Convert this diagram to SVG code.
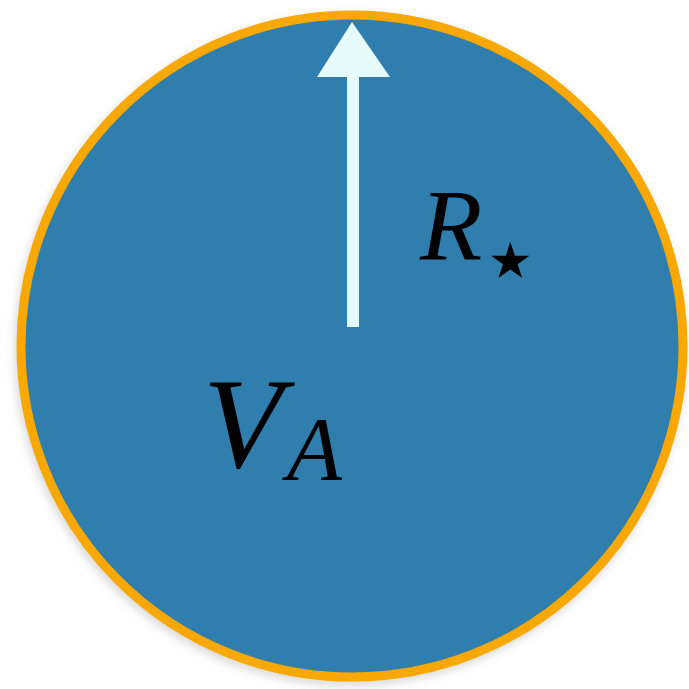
<svg xmlns="http://www.w3.org/2000/svg" width="689" height="689" viewBox="0 0 689 689">
<defs>
<style>
.math{font-family:"Liberation Serif","DejaVu Serif",serif;font-style:italic;fill:#000}
.sym{font-family:"DejaVu Sans",sans-serif;fill:#000}
</style>
<filter id="sh" x="-10%" y="-10%" width="120%" height="120%"><feGaussianBlur stdDeviation="4"/></filter>
</defs>
<rect width="689" height="689" fill="#ffffff"/>
<g id="sphere">
<circle cx="350" cy="350" r="336" fill="#999" opacity="0.35" filter="url(#sh)"/>
<circle cx="352" cy="346" r="331" fill="#2f7eae" stroke="#f8a800" stroke-width="9"/>
</g>
<g id="connectors">
<line x1="353" y1="327" x2="353" y2="72" stroke="#e6fafa" stroke-width="12"/>
<polygon points="352,22 390,77 317,77" fill="#e6fafa"/>
</g>
<g id="label-R">
<text class="math" x="420" y="260" font-size="102">R</text>
<text class="sym" x="479" y="293" font-size="100">⋆</text>
</g>
<g id="label-V">
<text class="math" x="203" y="467" font-size="130">V</text>
<text class="math" x="287" y="480" font-size="90">A</text>
</g>
</svg>
